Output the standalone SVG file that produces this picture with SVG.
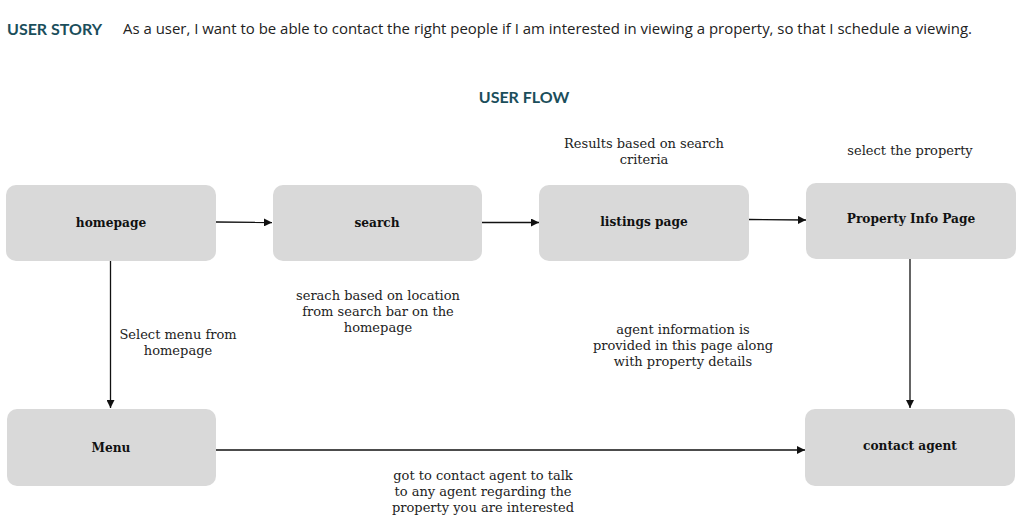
<svg xmlns="http://www.w3.org/2000/svg" width="1024" height="526" viewBox="0 0 1024 526">
<style>
.h{font-family:Lato,"Open Sans",sans-serif;font-weight:bold;fill:#1b4e5b;font-size:16px}
.s{font-family:"Open Sans",Lato,sans-serif;fill:#222;font-size:14.5px}
.box{fill:#d9d9d9}
.nl{font-family:"DejaVu Serif","Liberation Serif",serif;font-weight:bold;font-size:12.2px;fill:#111;text-anchor:middle}
.an{font-family:"DejaVu Serif","Liberation Serif",serif;font-size:13px;fill:#222;text-anchor:middle}
.c{stroke:#111;stroke-width:1.3;fill:none;marker-end:url(#ah)}
</style>
<defs>
<marker id="ah" viewBox="0 0 10 10" refX="10" refY="5" markerWidth="8" markerHeight="8" markerUnits="userSpaceOnUse" orient="auto">
<path d="M0,0 L10,5 L0,10 z" fill="#111"/>
</marker>
</defs>
<rect width="1024" height="526" fill="#fff"/>
<text class="h" x="7" y="35">USER STORY</text>
<text class="s" x="123" y="34" textLength="849" lengthAdjust="spacingAndGlyphs">As a user, I want to be able to contact the right people if I am interested in viewing a property, so that I schedule a viewing.</text>
<text class="h" x="524" y="103" text-anchor="middle">USER FLOW</text>

<g id="connectors">
<line class="c" x1="216" y1="222" x2="272" y2="222.5"/>
<line class="c" x1="482" y1="222.5" x2="539" y2="222.5"/>
<line class="c" x1="749" y1="219.5" x2="806" y2="220"/>
<line class="c" x1="110.5" y1="261" x2="110.5" y2="408"/>
<line class="c" x1="910" y1="259" x2="910" y2="408"/>
<line class="c" x1="216" y1="450" x2="805" y2="450"/>
</g>

<g id="homepage"><rect class="box" x="6" y="185" width="210" height="76" rx="10"/><text class="nl" x="111" y="227">homepage</text></g>
<g id="search"><rect class="box" x="273" y="185" width="209" height="76" rx="10"/><text class="nl" x="377" y="227">search</text></g>
<g id="listings"><rect class="box" x="539" y="185" width="210" height="76" rx="10"/><text class="nl" x="644" y="226">listings page</text></g>
<g id="property"><rect class="box" x="806" y="183" width="210" height="76" rx="10"/><text class="nl" x="911" y="223">Property Info Page</text></g>
<g id="menu"><rect class="box" x="7" y="409" width="209" height="77" rx="10"/><text class="nl" x="111" y="452">Menu</text></g>
<g id="contact"><rect class="box" x="805" y="409" width="210" height="77" rx="10"/><text class="nl" x="910" y="450">contact agent</text></g>

<g id="annotations">
<text class="an" x="644" y="148">Results based on search</text>
<text class="an" x="644" y="164">criteria</text>
<text class="an" x="910" y="155">select the property</text>
<text class="an" x="378" y="300">serach based on location</text>
<text class="an" x="378" y="316">from search bar on the</text>
<text class="an" x="378" y="332">homepage</text>
<text class="an" x="178" y="339">Select menu from</text>
<text class="an" x="178" y="355">homepage</text>
<text class="an" x="683" y="334">agent information is</text>
<text class="an" x="683" y="350">provided in this page along</text>
<text class="an" x="683" y="366">with property details</text>
<text class="an" x="483" y="480">got to contact agent to talk</text>
<text class="an" x="483" y="496">to any agent regarding the</text>
<text class="an" x="483" y="512">property you are interested</text>
</g>
</svg>
